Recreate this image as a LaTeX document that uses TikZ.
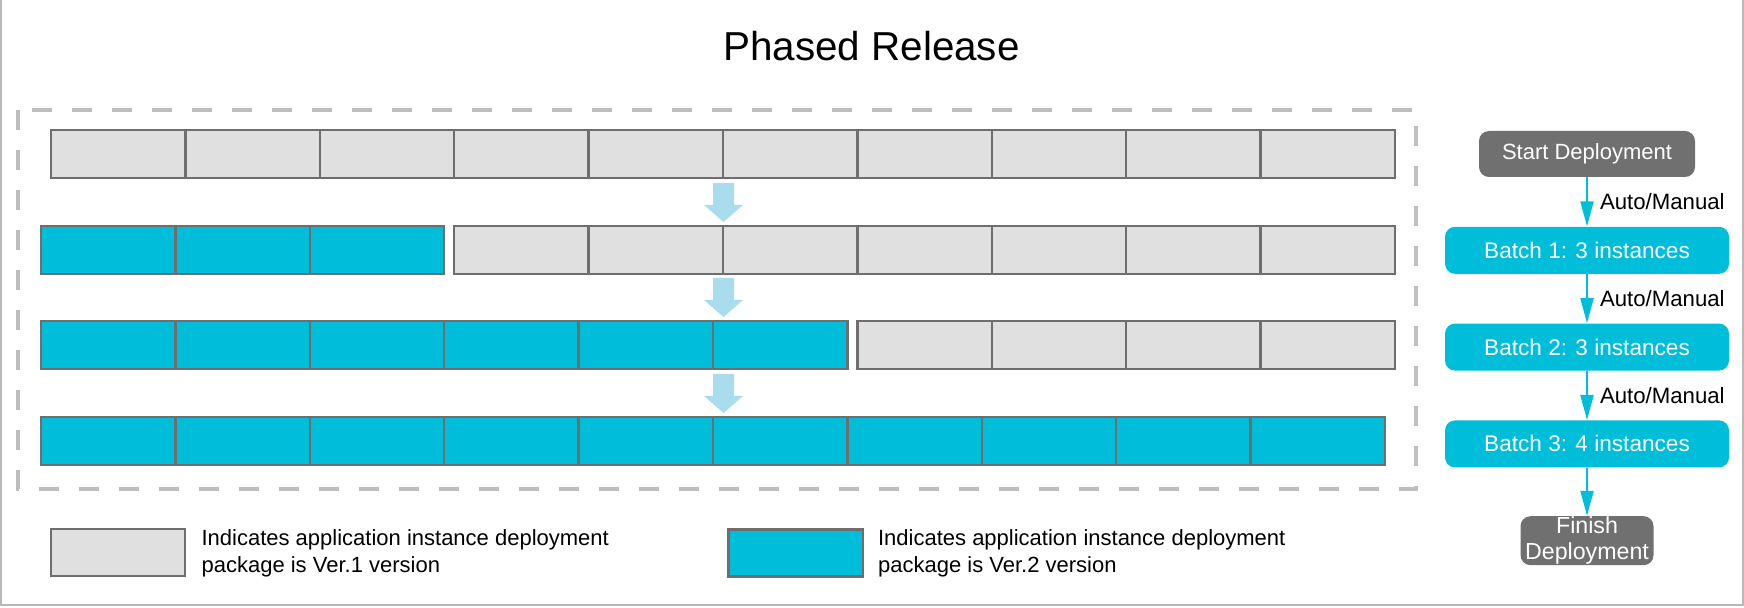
\documentclass[tikz,border=0pt]{standalone}
\usepackage{fontspec}
\setmainfont{Liberation Sans}
\usetikzlibrary{arrows.meta,positioning}
\definecolor{oldgray}   {HTML}{E0E0E0}
\definecolor{cellline}  {HTML}{6E6E6E}
\definecolor{newteal}   {HTML}{00BED9}
\definecolor{flowgray}  {HTML}{707070}
\definecolor{framegray} {HTML}{BEBEBE}
\definecolor{hintblue}  {HTML}{A9DCEC}
\definecolor{bordergray}{HTML}{B8B8B8}
\tikzset{
  cell/.style={draw=cellline,line width=1.2pt,minimum width=67.2pt,
               minimum height=24pt,inner sep=0pt,outer sep=0pt},
  oldcell/.style={cell,fill=oldgray},
  newcell/.style={cell,fill=newteal},
  flowbox/.style={rounded corners=5pt,text=white,inner sep=0pt,align=center,
                  font=\fontsize{11}{13}\selectfont},
  flowarrow/.style={draw=newteal,line width=1pt,
                    -{Triangle[width=6.5pt,length=12.5pt]}},
  modelabel/.style={right,xshift=6pt,inner sep=0pt,
                    font=\fontsize{11.1}{13}\selectfont},
  keytext/.style={align=left,inner sep=0pt,
                  font=\fontsize{11}{13.5}\selectfont},
  stageframe/.style={draw=framegray,line width=2pt,dash pattern=on 10pt off 10pt}
}
\begin{document}
\begin{tikzpicture}[x=0.5pt,y=-0.5pt]
  \useasboundingbox (0,0) rectangle (1744,608);
  \draw[bordergray,line width=1pt] (1,0) -- (1,605) -- (1743,605) -- (1743,0);

  \node[font=\fontsize{20.2}{24}\selectfont] (title) at (871.5,46) {Phased Release};

  % instance rows
  \draw[stageframe] (18,110) rectangle (1416,489);
  \foreach \i in {1,...,10}
    \node[oldcell] (r1c\i) at ({118.2+134.4*(\i-1)},154) {};
  \foreach \i in {1,2,3}
    \node[newcell] (r2c\i) at ({108.2+134.4*(\i-1)},250) {};
  \foreach \i in {4,...,10}
    \node[oldcell] (r2c\i) at ({118.2+134.4*(\i-1)},250) {};
  \foreach \i in {1,...,6}
    \node[newcell] (r3c\i) at ({108.2+134.4*(\i-1)},345) {};
  \foreach \i in {7,...,10}
    \node[oldcell] (r3c\i) at ({118.2+134.4*(\i-1)},345) {};
  \foreach \i in {1,...,10}
    \node[newcell] (r4c\i) at ({108.2+134.4*(\i-1)},441) {};

  % hint arrows between rows
  \foreach \y in {183,278,374}
    \fill[hintblue] (713,\y) -- (734,\y) -- (734,\y+22) -- (743,\y+22)
      -- (723.5,\y+39) -- (704,\y+22) -- (713,\y+22) -- cycle;

  % batch flow
  \node[flowbox,fill=flowgray,minimum width=108pt,minimum height=23pt]
    (start) at (1587,154) {Start Deployment};
  \node[flowbox,fill=newteal,minimum width=142pt,minimum height=23.5pt,
        font=\fontsize{11.3}{13}\selectfont,below=24.5pt of start]
    (batch1) {Batch 1: 3 instances};
  \node[flowbox,fill=newteal,minimum width=142pt,minimum height=23.5pt,
        font=\fontsize{11.3}{13}\selectfont,below=24.5pt of batch1]
    (batch2) {Batch 2: 3 instances};
  \node[flowbox,fill=newteal,minimum width=142pt,minimum height=23.5pt,
        font=\fontsize{11.3}{13}\selectfont,below=24.5pt of batch2]
    (batch3) {Batch 3: 4 instances};
  \node[flowbox,fill=flowgray,minimum width=66.5pt,minimum height=24.5pt,
        font=\fontsize{11.6}{13}\selectfont,below=24pt of batch3]
    (finish) {Finish\\Deployment};
  \draw[flowarrow] (start) -- node[modelabel] {Auto/Manual} (batch1);
  \draw[flowarrow] (batch1) -- node[modelabel] {Auto/Manual} (batch2);
  \draw[flowarrow] (batch2) -- node[modelabel] {Auto/Manual} (batch3);
  \draw[flowarrow] (batch3) -- (finish);

  % legend
  \node[oldcell,minimum height=23.5pt] (keyold) at (118,552.5) {};
  \node[keytext,right=8pt of keyold,yshift=-0.5pt] (keyoldtext)
    {Indicates application instance deployment\\package is Ver.1 version};
  \node[newcell,minimum height=23.5pt] (keynew) at (795.5,553) {};
  \node[keytext,right=7.5pt of keynew] (keynewtext)
    {Indicates application instance deployment\\package is Ver.2 version};
\end{tikzpicture}
\end{document}
